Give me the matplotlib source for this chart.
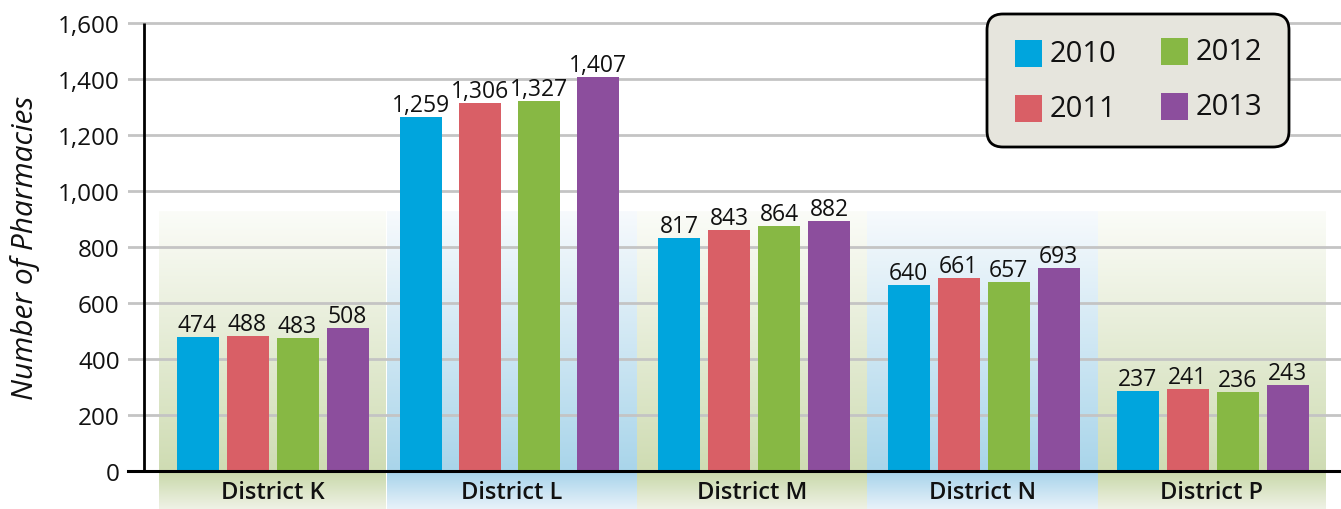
import numpy as np
import matplotlib
matplotlib.use('Agg')
import matplotlib.pyplot as plt
from matplotlib.patches import FancyBboxPatch, Rectangle
from matplotlib.ticker import FuncFormatter

# ---------------- data ----------------
districts = ['District K', 'District L', 'District M', 'District N', 'District P']
years = ['2010', '2011', '2012', '2013']

# values printed above the bars
labels_2010 = [474, 1259, 817, 640, 237]
labels_2011 = [488, 1306, 843, 661, 241]
labels_2012 = [483, 1327, 864, 657, 236]
labels_2013 = [508, 1407, 882, 693, 243]

# bar heights as drawn in the picture
heights_2010 = [480, 1266, 833, 666, 287]
heights_2011 = [483, 1315, 862, 690, 294]
heights_2012 = [476, 1322, 876, 676, 283]
heights_2013 = [512, 1408, 894, 726, 309]

yticks = [0, 200, 400, 600, 800, 1000, 1200, 1400, 1600]

colors = ['#00a5dd', '#d95f66', '#87b844', '#8c4e9d']
band_kind = ['green', 'blue', 'green', 'blue', 'green']

# ---------------- layout ----------------
W, H = 1341, 510
FONT = 'Open Sans'
plt.rcParams['font.family'] = [FONT, 'DejaVu Sans']

series_labels = [labels_2010, labels_2011, labels_2012, labels_2013]
series_heights = [heights_2010, heights_2011, heights_2012, heights_2013]

group_centers = [272.5, 509.5, 754, 983.5, 1212.5]
group_step = [50, 59, 50, 50, 50]
bar_w = 42
band_edges = [(159, 386), (387, 637), (637, 867), (867, 1098), (1098, 1326)]
band_top, axis_y, fig_bottom = 213, 472.3, 510

px_per_unit = 448 / 1600.0
ytop = 1610

fig = plt.figure(figsize=(W / 100, H / 100), dpi=100)

# background (bands) in pixel coordinates
bg = fig.add_axes([0, 0, 1, 1])
bg.axis('off')

def hexrgb(h):
    h = h.lstrip('#')
    return np.array([int(h[i:i + 2], 16) for i in (0, 2, 4)]) / 255.0

band_cols = {
    'green': dict(top='#fbfcf8', mid='#cfdcb3', below_top='#c8d8a8', below_bot='#eff2e6'),
    'blue': dict(top='#f7fafd', mid='#a9d5ea', below_top='#a6d3ea', below_bot='#e8f2fa'),
}

def grad(c0, c1, n=256):
    a, b = hexrgb(c0), hexrgb(c1)
    t = np.linspace(0, 1, n)[:, None]
    return (a * (1 - t) + b * t)[:, None, :]

for (x0, x1), kind in zip(band_edges, band_kind):
    c = band_cols[kind]
    bg.imshow(grad(c['top'], c['mid']), extent=[x0, x1, axis_y, band_top],
              aspect='auto', interpolation='bilinear', origin='upper')
    bg.imshow(grad(c['below_top'], c['below_bot']), extent=[x0, x1, fig_bottom, axis_y],
              aspect='auto', interpolation='bilinear', origin='upper')

bg.set_xlim(0, W)
bg.set_ylim(H, 0)

for (x0, x1), name in zip(band_edges, districts):
    bg.text((x0 + x1) / 2, 493, name, ha='center', va='center',
            fontsize=17, fontweight='semibold', color='#111111')

# main axes
ax_h = ytop * px_per_unit
ax = fig.add_axes([128 / W, (H - axis_y) / H, (W - 128) / W, ax_h / H])
ax.set_facecolor('none')
ax.set_xlim(128, W)
ax.set_ylim(0, ytop)
for s in ['top', 'right', 'left']:
    ax.spines[s].set_visible(False)
ax.spines['bottom'].set_color('black')
ax.spines['bottom'].set_linewidth(2.2)
ax.spines['bottom'].set_zorder(5)
ax.set_xticks([])
ax.set_yticks(yticks)
ax.yaxis.set_major_formatter(FuncFormatter(lambda v, p: f'{int(v):,}'))
ax.tick_params(axis='y', length=0, pad=6, labelsize=17.5, labelcolor='#111111')
ax.yaxis.grid(True, color='#c4c4c4', linewidth=2)
ax.set_axisbelow(True)
ax.plot([144, 144], [0, 1600], color='black', lw=2, zorder=4, solid_capstyle='butt')

for i, (hs, ls) in enumerate(zip(series_heights, series_labels)):
    xs = [c + (i - 1.5) * s for c, s in zip(group_centers, group_step)]
    ax.bar(xs, hs, width=bar_w, color=colors[i], zorder=3, linewidth=0)
    for x, h, lab in zip(xs, hs, ls):
        ax.annotate(f'{lab:,}', (x, h), xytext=(0, 6), textcoords='offset pixels',
                    ha='center', va='baseline', fontsize=16.5, color='#111111')

fig.text(25 / W, 1 - 248 / H, 'Number of Pharmacies', rotation=90, ha='center',
         va='center', fontsize=21.5, style='italic', color='#111111')

# legend overlay in pixel coordinates
ov = fig.add_axes([0, 0, 1, 1])
ov.axis('off')
ov.set_xlim(0, W)
ov.set_ylim(H, 0)
ov.add_patch(FancyBboxPatch((987, 15), 302, 133,
                            boxstyle='round,pad=0,rounding_size=16',
                            fc='#e6e5dd', ec='black', lw=2))
sq_x = [1015, 1161]
sq_y = [[41, 96], [39, 94]]
for i, yr in enumerate(years):
    col, row = i // 2, i % 2
    x0, y0 = sq_x[col], sq_y[col][row]
    ov.add_patch(Rectangle((x0, y0), 27, 27, fc=colors[i], ec='none'))
    ov.text(x0 + 35, y0 + 13.5, yr, ha='left', va='center', fontsize=21, color='#111111')

fig.savefig('out.png', dpi=100)
